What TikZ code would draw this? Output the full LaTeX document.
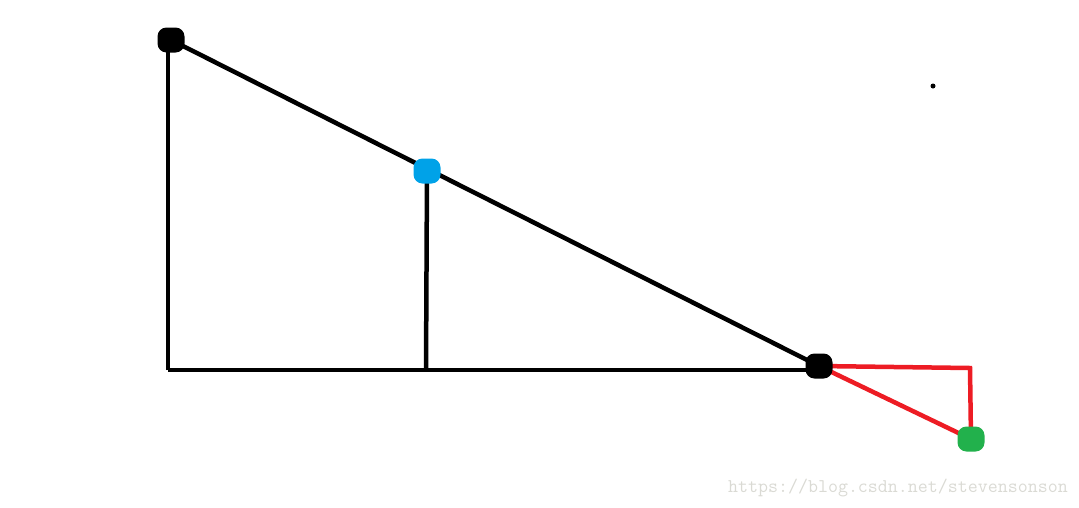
\documentclass[tikz,border=0pt]{standalone}
\usetikzlibrary{positioning}
\definecolor{paintblue}{RGB}{0,162,232}
\definecolor{paintred}{RGB}{237,28,36}
\definecolor{paintgreen}{RGB}{34,177,76}
\definecolor{markgray}{RGB}{218,218,212}
\begin{document}
\begin{tikzpicture}[x=1pt,y=-1pt,
  blob/.style={rectangle,rounded corners=9pt,inner sep=0pt,minimum width=27pt,minimum height=25pt},
  stroke/.style={line width=4.5pt}]
  \useasboundingbox (0,0) rectangle (1079,507);

  \coordinate (O) at (168,370);
  \coordinate (T) at (168,41);
  \coordinate (F) at (426,370);
  \coordinate (E) at (818,370);
  \coordinate (R) at (970,368);

  \node [blob] (A) at (171,40) {};
  \node [blob] (M) at (427,171) {};
  \node [blob] (B) at (819,366) {};
  \node [blob] (G) at (971,439) {};
  \node [circle,fill=black,inner sep=0pt,minimum size=5pt] (dot) at (933,86) {};

  \draw [stroke] (O) -- (T) ;
  \draw [stroke] (O) -- (E) ;
  \draw [stroke] (A.center) -- (B.center) ;
  \draw [stroke] (M.center) -- (F) ;

  \draw [stroke,paintred] (B.center) -- (R) -- (G.center) ;
  \draw [stroke,paintred] (B.center) -- (G.center) ;

  \node [blob,fill=black] at (A) {};
  \node [blob,fill=paintblue] at (M) {};
  \node [blob,fill=black] at (B) {};
  \node [blob,fill=paintgreen] at (G) {};

  \node [markgray,font=\ttfamily\fontsize{19.4}{21}\selectfont,anchor=east,inner sep=0pt] (url) at (1068,488) {https://blog.csdn.net/stevensonson};
\end{tikzpicture}
\end{document}
